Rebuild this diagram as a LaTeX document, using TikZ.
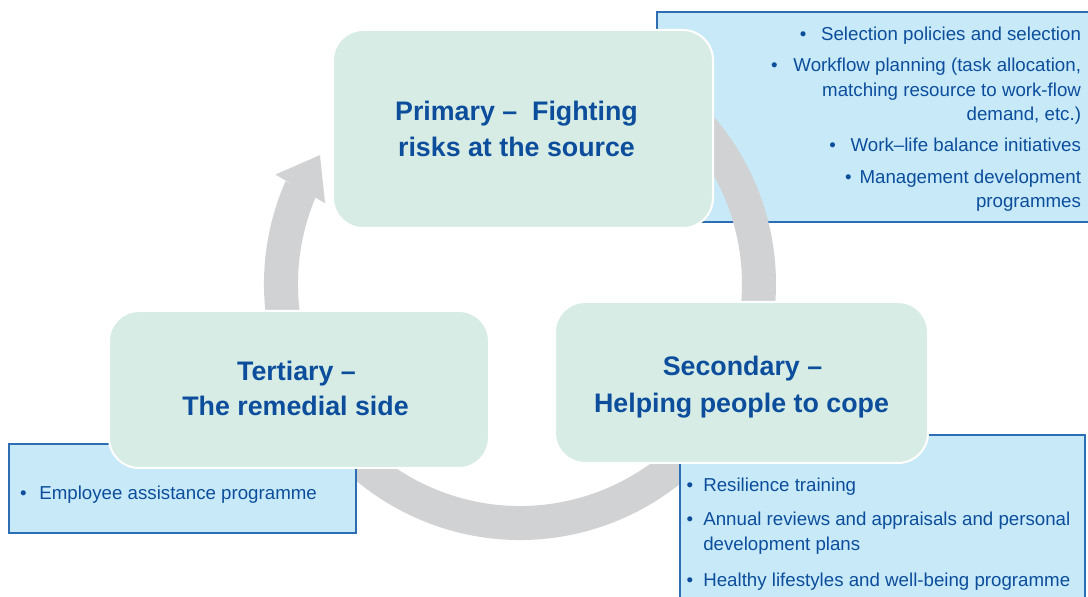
\documentclass[tikz,border=0pt]{standalone}
\usepackage{fontspec}
\setmainfont{Liberation Sans}
\definecolor{txtblue}{HTML}{0C4E9C}
\definecolor{boxgreen}{HTML}{D7ECE5}
\definecolor{boxblue}{HTML}{C7E9F8}
\definecolor{bordblue}{HTML}{2C6DB4}
\definecolor{ringgrey}{HTML}{D1D2D4}
\newcommand\bulletsize{\fontsize{18.7}{24}\selectfont}
\newcommand\titlesize{\fontsize{26.8}{36}\selectfont\bfseries}
\begin{document}
\begin{tikzpicture}[x=1pt,y=1pt,
  greenbox/.style={draw=white, line width=2pt, fill=boxgreen, rounded corners=30pt, inner sep=0pt, outer sep=0pt},
  bluebox/.style={draw=bordblue, line width=1.3pt, fill=boxblue, inner sep=0pt, outer sep=0pt},
  ttl/.style={inner sep=0pt, outer sep=0pt, text=txtblue, font=\titlesize, anchor=base},
  bulr/.style={inner sep=0pt, outer sep=0pt, text=txtblue, font=\bulletsize, anchor=base east},
  bull/.style={inner sep=0pt, outer sep=0pt, text=txtblue, font=\bulletsize, anchor=base west},
  ]
\useasboundingbox (0,0) rectangle (1088,597);

% top-right list box (under the ring)
\node[bluebox, minimum width=435pt, minimum height=210pt] (trbox) at (874.5,480) {};

% cycle ring with arrow head
\coordinate (ringc) at (520,313);
\draw[ringgrey, line width=34pt] ([shift={(156.3:239)}]ringc) arc[start angle=156.3, end angle=435, radius=239];
\fill[ringgrey] ([shift={(155.9:268)}]ringc) -- ([shift={(147.2:238)}]ringc) -- ([shift={(157.5:211)}]ringc) -- cycle;

% bottom list boxes (over the ring)
\node[bluebox, minimum width=405pt, minimum height=165pt] (brbox) at (882.5,79.5) {};
\node[bluebox, minimum width=347pt, minimum height=89pt] (lbox) at (182.5,108.5) {};

% green stage boxes
\node[greenbox, minimum width=380pt, minimum height=198pt] (primary) at (523,468) {};
\node[greenbox, minimum width=373pt, minimum height=161pt] (secondary) at (741.5,214.5) {};
\node[greenbox, minimum width=380pt, minimum height=157pt] (tertiary) at (299,207.5) {};

% titles
\node[ttl] (p1) at (516.5,476) {Primary –~ Fighting};
\node[ttl] (p2) at (516.5,440.5) {risks at the source};
\node[ttl] (s1) at (742.5,221) {Secondary –};
\node[ttl] (s2) at (741.5,184.5) {Helping people to cope};
\node[ttl] (t1) at (296.5,216) {Tertiary –};
\node[ttl] (t2) at (295.5,181) {The remedial side};

% top-right list
\node[bulr] (a1) at (1081,556) {•\hspace{14.7pt}Selection policies and selection};
\node[bulr] (a2) at (1081,525) {•\hspace{15.7pt}Workflow planning (task allocation,};
\node[bulr] (a3) at (1081,500.5) {matching resource to work-flow};
\node[bulr] (a4) at (1081,476.5) {demand, etc.)};
\node[bulr] (a5) at (1081,445) {•\hspace{14.7pt}Work–life balance initiatives};
\node[bulr] (a6) at (1081,413) {•\hspace{8pt}Management development};
\node[bulr] (a7) at (1081,389.5) {programmes};

% bottom-right list
\node[bull] (b1) at (686.7,105.3) {•\hspace{10.1pt}Resilience training};
\node[bull] (b2) at (686.7,71) {•\hspace{10.1pt}Annual reviews and appraisals and personal};
\node[bull] (b3) at (703.3,46.3) {development plans};
\node[bull] (b4) at (686.7,10.3) {•\hspace{10.1pt}Healthy lifestyles and well-being programme};

% left list
\node[bull] (c1) at (20,97.5) {•\hspace{12.8pt}Employee assistance programme};
\end{tikzpicture}
\end{document}
